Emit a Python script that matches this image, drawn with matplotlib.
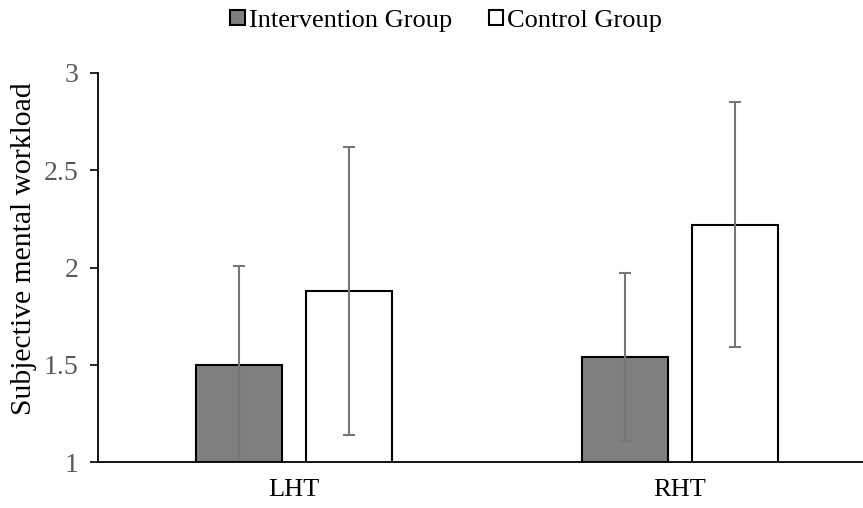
import numpy as np
import matplotlib.pyplot as plt

plt.rcParams['font.family'] = ['Liberation Serif', 'DejaVu Serif']

categories = ['LHT', 'RHT']
intervention = [1.50, 1.54]
intervention_err = [0.51, 0.43]
control = [1.88, 2.22]
control_err = [0.74, 0.63]

fig = plt.figure(figsize=(8.63, 5.08), dpi=100)
ax = fig.add_axes([98 / 863, 1 - 462 / 508, 1 - 98 / 863, (462 - 73) / 508])

x = np.arange(len(categories))
w = 0.223
off = 0.1425
err_kw = dict(ecolor='#767676', elinewidth=1.5, capsize=4.5, capthick=1.5)
ax.bar(x - off, intervention, w, color='#7f7f7f', edgecolor='black',
       linewidth=1.5, yerr=intervention_err, error_kw=err_kw, label='Intervention Group')
ax.bar(x + off, control, w, color='white', edgecolor='black',
       linewidth=1.5, yerr=control_err, error_kw=err_kw, label='Control Group')

ax.set_ylim(1, 3)
ax.set_xlim(-0.508, 1.474)
ax.set_yticks([1, 1.5, 2, 2.5, 3])
ax.set_yticklabels(['1', '1.5', '2', '2.5', '3'])
ax.set_xticks(x)
ax.set_xticklabels(categories, fontsize=19)
ax.tick_params(axis='y', labelsize=20, labelcolor='#595959', length=6, width=1.2, pad=8)
ax.tick_params(axis='x', length=0, pad=12)
for s in ['top', 'right']:
    ax.spines[s].set_visible(False)
ax.spines['left'].set_linewidth(1.3)
ax.spines['bottom'].set_linewidth(1.3)
ax.set_ylabel('Subjective mental workload', fontsize=21.3, labelpad=5, y=0.548)

fig.legend(loc='upper center', bbox_to_anchor=(0.517, 1.028), ncol=2, frameon=False,
           fontsize=19, handlelength=0.55, handleheight=0.55, handletextpad=0.15,
           columnspacing=1.4)

fig.savefig('out.png', dpi=100)
